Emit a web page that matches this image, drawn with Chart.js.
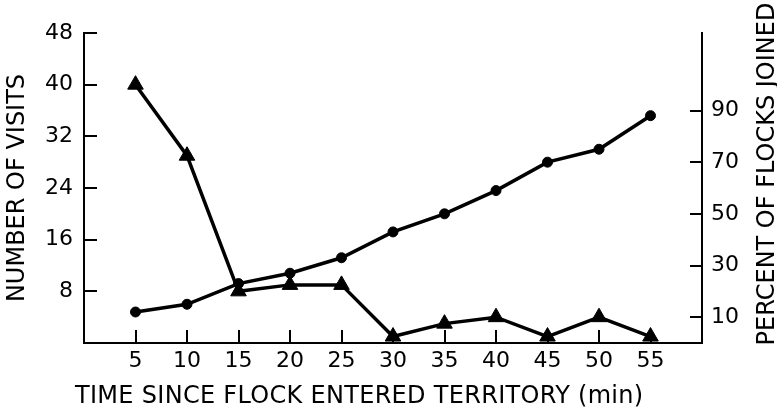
<!DOCTYPE html>
<html>
<head>
<meta charset="utf-8">
<script src="https://cdn.jsdelivr.net/npm/chart.js@4.4.1/dist/chart.umd.min.js"></script>
<style>
  html, body { margin: 0; padding: 0; background: #fff; }
  canvas { display: block; }
</style>
</head>
<body>
<canvas id="chart" width="777" height="412"></canvas>
<script>
// Minutes since the flock entered the territory
const minutes = [5, 10, 15, 20, 25, 30, 35, 40, 45, 50, 55];
// Number of visits (left axis, triangles)
const visits = [40, 29, 8, 9, 9, 1, 3, 4, 1, 4, 1];
// Percent of flocks joined (right axis, circles)
const percentJoined = [12, 15, 23, 27, 33, 43, 50, 59, 70, 75, 88];

const minuteTicks = [5, 10, 15, 20, 25, 30, 35, 40, 45, 50, 55];
const visitTicks = [8, 16, 24, 32, 40, 48];
const percentTicks = [10, 30, 50, 70, 90];

const xTitle = 'TIME SINCE FLOCK ENTERED TERRITORY (min)';
const leftTitle = 'NUMBER OF VISITS';
const rightTitle = 'PERCENT OF FLOCKS JOINED';

const FONT = '"DejaVu Sans", sans-serif';
const INK = '#000';

const fixedTicks = (values) => (scale) => {
  scale.ticks = values.map(v => ({ value: v }));
};

// Tick marks that point into the plot area, placed by each scale
const inwardTicks = {
  id: 'inwardTicks',
  afterDraw(chart) {
    const { ctx, scales } = chart;
    const marks = [
      { scale: scales.x, len: 13 },
      { scale: scales.y, len: 13 },
      { scale: scales.y2, len: 12 }
    ];
    ctx.save();
    ctx.strokeStyle = INK;
    ctx.lineWidth = 2;
    ctx.lineCap = 'butt';
    ctx.beginPath();
    for (const { scale, len } of marks) {
      for (const t of scale.ticks) {
        const p = Math.round(scale.getPixelForValue(t.value));
        if (scale.axis === 'x') {
          ctx.moveTo(p, scale.top);
          ctx.lineTo(p, scale.top - len);
        } else if (scale.position === 'left') {
          ctx.moveTo(scale.right, p);
          ctx.lineTo(scale.right + len, p);
        } else {
          ctx.moveTo(scale.left, p);
          ctx.lineTo(scale.left - len, p);
        }
      }
    }
    ctx.stroke();
    ctx.restore();
  }
};

// Bottom and right captions (right one reads bottom-to-top)
const captions = {
  id: 'captions',
  afterDraw(chart) {
    const { ctx, chartArea } = chart;
    ctx.save();
    ctx.fillStyle = INK;
    ctx.font = '24px ' + FONT;
    ctx.letterSpacing = '0.3px';
    ctx.textBaseline = 'middle';
    ctx.textAlign = 'left';
    ctx.fillText(xTitle, chartArea.left - 9, 397);
    ctx.letterSpacing = '0px';
    ctx.translate(768, 174);
    ctx.rotate(-Math.PI / 2);
    ctx.textAlign = 'center';
    ctx.fillText(rightTitle, 0, 0);
    ctx.restore();
  }
};

const lineSeries = (data, axis, style, radius) => ({
  data: minutes.map((m, i) => ({ x: m, y: data[i] })),
  yAxisID: axis,
  borderColor: INK,
  backgroundColor: INK,
  borderWidth: 3.5,
  pointStyle: style,
  pointRadius: radius,
  pointBorderWidth: 1,
  pointBackgroundColor: INK,
  pointBorderColor: INK,
  tension: 0,
  clip: false
});

new Chart(document.getElementById('chart'), {
  type: 'line',
  data: {
    datasets: [
      { label: 'Visits', ...lineSeries(visits, 'y', 'triangle', 9) },
      { label: 'Percent joined', ...lineSeries(percentJoined, 'y2', 'circle', 5) }
    ]
  },
  options: {
    responsive: false,
    animation: false,
    devicePixelRatio: 1,
    layout: { padding: { top: 33, left: 0, right: 0, bottom: 0 } },
    plugins: {
      legend: { display: false },
      tooltip: { enabled: false }
    },
    scales: {
      x: {
        type: 'linear',
        position: 'bottom',
        min: 0,
        max: 60,
        afterBuildTicks: fixedTicks(minuteTicks),
        afterFit: (s) => { s.height = 69; },
        grid: { drawOnChartArea: false, drawTicks: false },
        border: { display: true, color: INK, width: 2 },
        ticks: { autoSkip: false, maxRotation: 0, padding: 5, color: INK, font: { family: FONT, size: 22 } },
        title: { display: false }
      },
      y: {
        type: 'linear',
        position: 'left',
        min: 0,
        max: 48,
        afterBuildTicks: fixedTicks(visitTicks),
        afterFit: (s) => { s.width = 84; },
        grid: { drawOnChartArea: false, drawTicks: false },
        border: { display: true, color: INK, width: 2 },
        ticks: { autoSkip: false, padding: 11, color: INK, font: { family: FONT, size: 22 } },
        title: {
          display: true,
          text: leftTitle,
          color: INK,
          font: { family: FONT, size: 24, lineHeight: 1 },
          padding: { top: 5.5, bottom: 0 }
        }
      },
      y2: {
        type: 'linear',
        position: 'right',
        min: 0,
        max: 120,
        afterBuildTicks: fixedTicks(percentTicks),
        afterFit: (s) => { s.width = 75; },
        grid: { drawOnChartArea: false, drawTicks: false },
        border: { display: true, color: INK, width: 2 },
        ticks: { autoSkip: false, padding: 9, color: INK, font: { family: FONT, size: 22 } },
        title: { display: false }
      }
    }
  },
  plugins: [inwardTicks, captions]
});
</script>
</body>
</html>
